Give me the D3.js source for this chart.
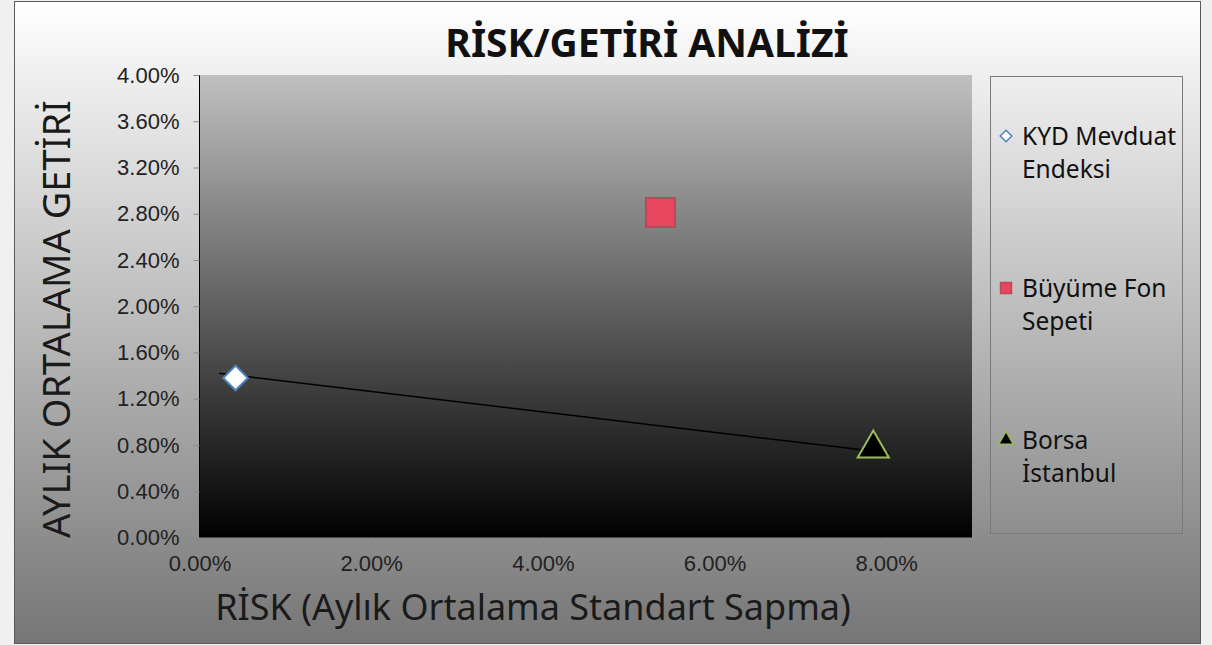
<!DOCTYPE html>
<html>
<head>
<meta charset="utf-8">
<script src="https://cdn.jsdelivr.net/npm/d3@7"></script>
<style>
  html, body { margin: 0; padding: 0; background: #f0f0f0; }
  svg { display: block; }
</style>
</head>
<body>
<svg id="chart"></svg>
<script>
const width = 1212
const height = 645

// data
const seriesNames = ['KYD Mevduat Endeksi', 'Büyüme Fon Sepeti', 'Borsa İstanbul']
const riskValues = [0.0042, 0.0537, 0.0785]
const returnValues = [0.0138, 0.0281, 0.0077]
const trendRisk = [0.0023, 0.0804]
const trendReturn = [0.0142, 0.0073]
const xTicks = [0, 0.02, 0.04, 0.06, 0.08]
const yTicks = [0, 0.004, 0.008, 0.012, 0.016, 0.02, 0.024, 0.028, 0.032, 0.036, 0.04]
const legendLines = [['KYD Mevduat', 'Endeksi'], ['Büyüme Fon', 'Sepeti'], ['Borsa', 'İstanbul']]

const plot = { left: 199.5, right: 972, top: 75, bottom: 537.5 }

const svg = d3.select('#chart')
    .attr('width', width)
    .attr('height', height)

const defs = svg.append('defs')
const bgGrad = defs.append('linearGradient')
    .attr('id', 'bgGrad').attr('x1', 0).attr('y1', 0).attr('x2', 0).attr('y2', 1)
bgGrad.append('stop').attr('offset', '0%').attr('stop-color', '#ffffff')
bgGrad.append('stop').attr('offset', '100%').attr('stop-color', '#767676')

const plotGrad = defs.append('linearGradient')
    .attr('id', 'plotGrad').attr('x1', 0).attr('y1', 0).attr('x2', 0).attr('y2', 1)
plotGrad.append('stop').attr('offset', '0%').attr('stop-color', '#c0c0c0')
plotGrad.append('stop').attr('offset', '100%').attr('stop-color', '#000000')

// chart frame
svg.append('rect')
    .attr('x', 14.5).attr('y', 1.5)
    .attr('width', 1186).attr('height', 642)
    .attr('fill', 'url(#bgGrad)')
    .attr('stroke', '#5a5a5a')
    .attr('stroke-width', 1)

svg.append('rect')
    .attr('x', plot.left).attr('y', plot.top)
    .attr('width', plot.right - plot.left).attr('height', plot.bottom - plot.top)
    .attr('fill', 'url(#plotGrad)')

const x = d3.scaleLinear().domain([0, 0.09]).range([plot.left, plot.right])
const y = d3.scaleLinear().domain([0, 0.04]).range([plot.bottom, plot.top])
const pct = d3.format('.2%')

const yAxis = svg.append('g')
    .attr('transform', `translate(${plot.left},0)`)
    .call(d3.axisLeft(y).tickValues(yTicks).tickFormat(pct).tickSize(6).tickPadding(14))
const xAxis = svg.append('g')
    .attr('transform', `translate(0,${plot.bottom})`)
    .call(d3.axisBottom(x).tickValues(xTicks).tickFormat(pct).tickSize(6).tickPadding(12))

yAxis.select('.domain').attr('stroke', '#000').attr('d', `M0,${plot.top}V${plot.bottom}`)
xAxis.select('.domain').remove()
svg.selectAll('.tick line').attr('stroke', '#8a8a8a')
svg.selectAll('.tick text')
    .attr('fill', '#222')
    .style('font-family', '"Liberation Sans", Arial, sans-serif')
    .style('font-size', '22px')

// trendline
svg.append('line')
    .attr('x1', x(trendRisk[0])).attr('y1', y(trendReturn[0]))
    .attr('x2', x(trendRisk[1])).attr('y2', y(trendReturn[1]))
    .attr('stroke', '#000')
    .attr('stroke-width', 1.5)

const markers = [
    { type: d3.symbolDiamond2, size: 390, fill: '#ffffff', stroke: '#4f81bd', lsize: 85 },
    { type: d3.symbolSquare, size: 840, fill: '#e8465f', stroke: '#b8495a', lsize: 120 },
    { type: d3.symbolTriangle, size: 420, fill: '#000000', stroke: '#9bbb59', lsize: 95 }
]

const points = seriesNames.map((name, i) => ({ name, risk: riskValues[i], ret: returnValues[i], m: markers[i] }))

svg.append('g').selectAll('path')
    .data(points)
    .join('path')
    .attr('transform', d => `translate(${x(d.risk)},${y(d.ret)})`)
    .attr('d', d => d3.symbol().type(d.m.type).size(d.m.size)())
    .attr('fill', d => d.m.fill)
    .attr('stroke', d => d.m.stroke)
    .attr('stroke-width', 2)

// title
svg.append('text')
    .attr('x', 647).attr('y', 57)
    .attr('text-anchor', 'middle')
    .style('font-family', '"Noto Sans", sans-serif')
    .style('font-weight', 'bold')
    .style('font-size', '39px')
    .attr('fill', '#111')
    .text('RİSK/GETİRİ ANALİZİ')

// axis titles
svg.append('text')
    .attr('x', 533).attr('y', 620)
    .attr('text-anchor', 'middle')
    .style('font-family', '"Noto Sans", sans-serif')
    .style('font-size', '36px')
    .attr('fill', '#1a1a1a')
    .text('RİSK (Aylık Ortalama Standart Sapma)')

svg.append('text')
    .attr('transform', 'translate(70,319) rotate(-90)')
    .attr('text-anchor', 'middle')
    .style('font-family', '"Noto Sans", sans-serif')
    .style('font-size', '38px')
    .attr('fill', '#1a1a1a')
    .text('AYLIK ORTALAMA GETİRİ')

// legend
const legend = svg.append('g')
legend.append('rect')
    .attr('x', 990.5).attr('y', 76.5)
    .attr('width', 192).attr('height', 457)
    .attr('fill', 'none')
    .attr('stroke', '#7a7a7a')

const item = legend.selectAll('g.item')
    .data(points)
    .join('g')
    .attr('class', 'item')
    .attr('transform', (d, i) => `translate(1006,${136 + i * 152})`)

item.append('path')
    .attr('d', d => d3.symbol().type(d.m.type).size(d.m.lsize)())
    .attr('fill', d => d.m.fill)
    .attr('stroke', d => d.m.stroke)
    .attr('stroke-width', 1.5)

item.append('text')
    .style('font-family', '"Noto Sans", sans-serif')
    .style('font-size', '24.5px')
    .attr('fill', '#111')
    .selectAll('tspan')
    .data((d, i) => legendLines[i])
    .join('tspan')
    .attr('x', 16)
    .attr('y', (d, j) => 9 + j * 33)
    .text(d => d)
</script>
</body>
</html>
